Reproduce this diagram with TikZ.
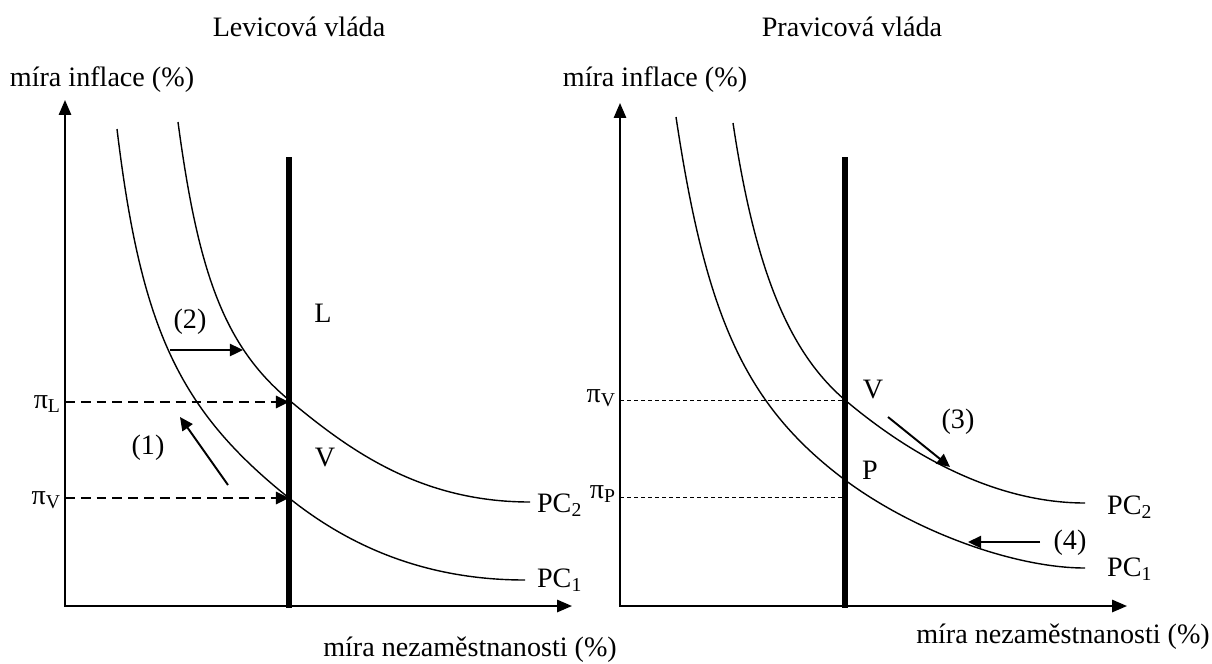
\documentclass[tikz,border=0pt]{standalone}
\usepackage{fontspec}
\setmainfont{Liberation Serif}
\usetikzlibrary{arrows.meta}

\begin{document}
\begin{tikzpicture}[x=0.02cm,y=-0.02cm,
  every node/.style={font=\fontsize{16}{19}\selectfont,inner sep=1pt},
  axis/.style={line width=1.1pt,{Triangle[length=8.5pt,width=7pt]}-{Triangle[length=8.5pt,width=7pt]}},
  pc/.style={line width=0.8pt},
  wall/.style={line width=2.9pt},
  guide/.style={line width=1.3pt,dash pattern=on 5.6pt off 3.4pt,-{Triangle[length=7.5pt,width=7pt]}},
  fine/.style={line width=0.5pt,dash pattern=on 2.3pt off 1.7pt},
  move/.style={line width=1.1pt,-{Triangle[length=7.5pt,width=7pt]}}]
  \useasboundingbox (0,0) rectangle (1212,663);
  % levicova vlada
  \coordinate (Y1) at (65,100);
  \coordinate (X1) at (572,606);
  \coordinate (T1) at (289,157);
  \coordinate (B1) at (289,608);
  \coordinate (L) at (289,402);
  \coordinate (V1) at (289,498);
  \coordinate (aL) at (65,402);
  \coordinate (aV1) at (65,498);
  \draw[axis] (Y1) |- (X1);
  \draw[pc] (117,129) .. controls (141,329) and (179,410) .. (V1)
    .. controls (349,546) and (425,580) .. (525,580);
  \draw[pc] (178,122) .. controls (198,272) and (224,346) .. (289,400)
    .. controls (349,450) and (420,502) .. (530,502);
  \draw[wall] (T1) -- (B1);
  \draw[guide] (aL) -- (L);
  \draw[guide] (aV1) -- (V1);
  \coordinate (s1) at (228,485);
  \coordinate (e1) at (180,417);
  \coordinate (s2) at (170,350);
  \coordinate (e2) at (243,350);
  \draw[move] (s1) -- (e1);
  \draw[move] (s2) -- (e2);
  \node (tl) at (299,27) {Levicová vláda};
  \node (yl) at (102,80) {míra inflace (\%)};
  \node (xl) at (470,650) {míra nezaměstnanosti (\%)};
  \node[anchor=east] (piL) at (63,404) {π\textsubscript{L}};
  \node[anchor=east] (piV1) at (63,500) {π\textsubscript{V}};
  \node (n1) at (148,448) {(1)};
  \node (n2) at (190,322) {(2)};
  \node (lL) at (323,313) {L};
  \node (lV1) at (325,457) {V};
  \node[anchor=west] (pc2l) at (535,505) {PC\textsubscript{2}};
  \node[anchor=west] (pc1l) at (535,580) {PC\textsubscript{1}};
  % pravicova vlada
  \coordinate (Y2) at (620,103);
  \coordinate (X2) at (1127,606);
  \coordinate (T2) at (845,157);
  \coordinate (B2) at (845,608);
  \coordinate (V2) at (845,400);
  \coordinate (P) at (845,497);
  \coordinate (aV2) at (620,400);
  \coordinate (aP) at (620,497);
  \draw[axis] (Y2) |- (X2);
  \draw[pc] (676,117) .. controls (706,317) and (745,405) .. (845,480)
    .. controls (915,532) and (1015,568) .. (1085,568);
  \draw[pc] (733,123) .. controls (755.5,273) and (790,353) .. (V2)
    .. controls (910,455) and (995,503) .. (1085,503);
  \draw[wall] (T2) -- (B2);
  \draw[fine] (aV2) -- (V2);
  \draw[fine] (aP) -- (P);
  \coordinate (s3) at (888,417);
  \coordinate (e3) at (950,467);
  \coordinate (s4) at (1040,542);
  \coordinate (e4) at (968,542);
  \draw[move] (s3) -- (e3);
  \draw[move] (s4) -- (e4);
  \node (tr) at (852,27) {Pravicová vláda};
  \node (yr) at (655,80) {míra inflace (\%)};
  \node (xr) at (1063,637) {míra nezaměstnanosti (\%)};
  \node[anchor=east] (piV2) at (618,398) {π\textsubscript{V}};
  \node[anchor=east] (piP) at (618,494) {π\textsubscript{P}};
  \node (n3) at (958,422) {(3)};
  \node (n4) at (1070,543) {(4)};
  \node (lV2) at (873,390) {V};
  \node (lP) at (870,470) {P};
  \node[anchor=west] (pc2r) at (1105,507) {PC\textsubscript{2}};
  \node[anchor=west] (pc1r) at (1105,569) {PC\textsubscript{1}};
\end{tikzpicture}
\end{document}
